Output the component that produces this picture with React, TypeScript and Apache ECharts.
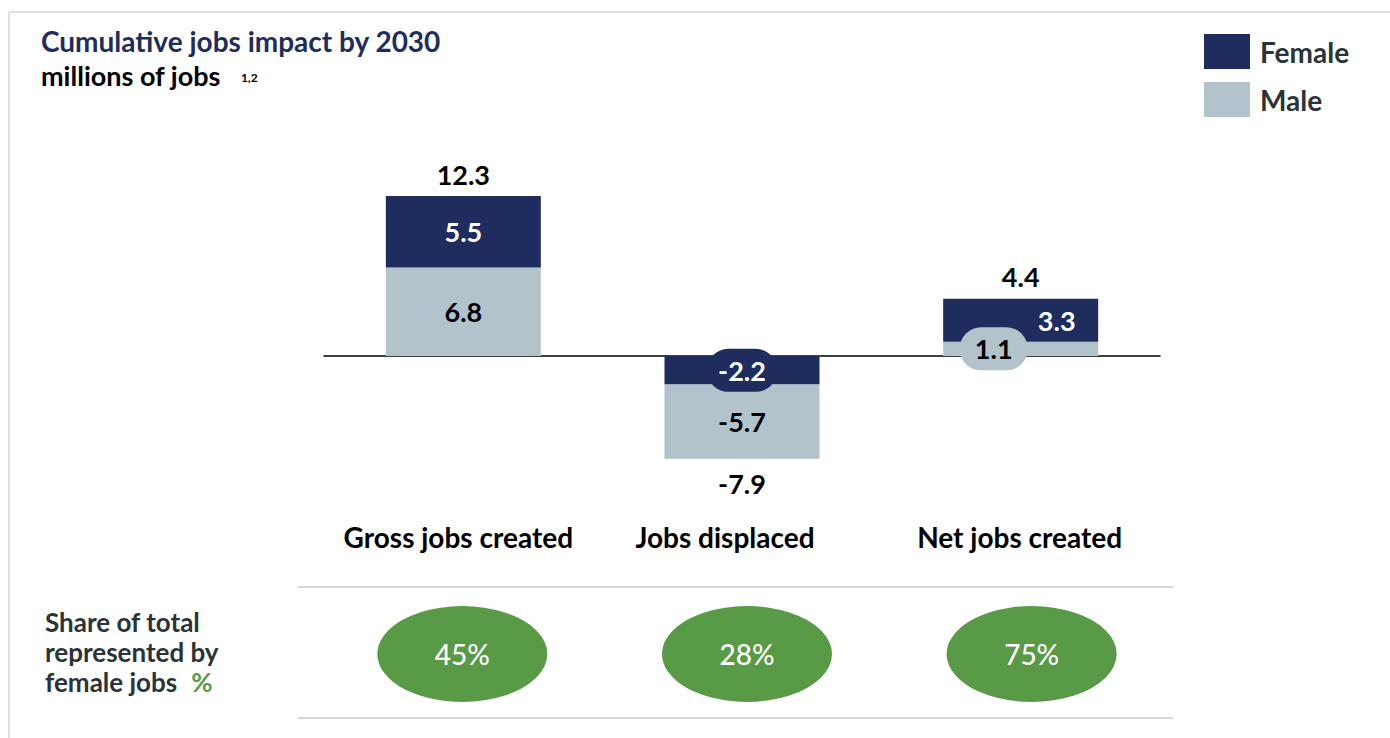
import React, { useEffect, useRef } from "react";
import * as echarts from "echarts";

const categories = ["Gross jobs created", "Jobs displaced", "Net jobs created"];
const femaleJobs = [5.5, -2.2, 3.3];
const maleJobs = [6.8, -5.7, 1.1];
const totalJobs = [12.3, -7.9, 4.4];
const femaleSharePct = [45, 28, 75];

const NAVY = "#1f2d5e";
const GREY = "#b2c3cc";
const GREEN = "#589a46";
const DARK = "#2a3338";
const FONT = "Lato, 'Noto Sans', sans-serif";

// label tweaks for crowded segments (keyed by category index)
const femaleLabelTweaks: Record<number, any> = {
  1: { backgroundColor: NAVY, borderRadius: 21, padding: [8, 11, 8, 11] },
  2: { offset: [36, 0] },
};
const maleLabelTweaks: Record<number, any> = {
  2: { backgroundColor: GREY, borderRadius: 21, padding: [8, 15, 8, 15], offset: [-27, 0] },
};
// right padding of category labels (shifts the label a little to the left)
const categoryLabelShift = [10, 34, 2];

const fmt = (v: number) => v.toFixed(1);

export default function App() {
  const ref = useRef<HTMLDivElement>(null);

  useEffect(() => {
    if (!ref.current) return;
    const chart = echarts.init(ref.current, undefined, { renderer: "svg" });

    const segLabel = (color: string) => ({
      show: true,
      position: "inside",
      fontFamily: FONT,
      fontSize: 27,
      fontWeight: "bold",
      color,
      formatter: (p: any) => fmt(p.value),
    });

    const femaleNeg = femaleJobs.map((v, i) =>
      v < 0 ? { value: v, label: femaleLabelTweaks[i] || {} } : "-"
    );
    const femalePos = femaleJobs.map((v, i) =>
      v >= 0 ? { value: v, label: femaleLabelTweaks[i] || {} } : "-"
    );
    const maleData = maleJobs.map((v, i) => ({ value: v, label: maleLabelTweaks[i] || {} }));

    const catRich: Record<string, any> = {};
    categoryLabelShift.forEach((s, i) => {
      catRich["c" + i] = {
        fontFamily: FONT,
        fontSize: 28,
        fontWeight: "bold",
        color: "#000000",
        padding: [0, s, 0, 0],
      };
    });

    const option: any = {
      animation: false,
      backgroundColor: "#ffffff",
      textStyle: { fontFamily: FONT },
      title: [
        {
          text: "Cumulative jobs impact by 2030",
          left: 41,
          top: 27,
          padding: 0,
          textStyle: { fontFamily: FONT, fontSize: 28, fontWeight: "bold", color: "#1f2d5c" },
        },
        {
          text: "{m|millions of jobs}{s|1,2}",
          left: 41,
          top: 62,
          padding: 0,
          textStyle: {
            rich: {
              m: { fontFamily: FONT, fontSize: 27, fontWeight: "bold", color: "#000000" },
              s: { fontFamily: FONT, fontSize: 12, fontWeight: "bold", color: "#000000", padding: [4, 0, 0, 20] },
            },
          },
        },
      ],
      legend: {
        data: ["Female", "Male"],
        orient: "vertical",
        left: 1204,
        top: 34,
        padding: 0,
        itemWidth: 46,
        itemHeight: 35,
        itemGap: 13,
        icon: "rect",
        selectedMode: false,
        textStyle: { fontFamily: FONT, fontSize: 28, fontWeight: "bold", color: DARK, padding: [0, 0, 0, 5] },
      },
      grid: [
        { left: 324, right: 230, top: 174, height: 312 },
        { left: 320, right: 216, top: 589, height: 130 },
      ],
      xAxis: [
        {
          type: "category",
          gridIndex: 0,
          data: categories,
          axisLine: { show: true, onZero: true, lineStyle: { color: "#000000", width: 1.5 } },
          axisTick: { show: false },
          axisLabel: { show: false },
        },
        {
          type: "category",
          gridIndex: 0,
          position: "bottom",
          data: categories,
          axisLine: { show: false, onZero: false },
          axisTick: { show: false },
          axisLabel: {
            show: true,
            interval: 0,
            margin: 37,
            fontFamily: FONT,
            fontSize: 28,
            fontWeight: "bold",
            color: "#000000",
            formatter: (v: string, i: number) => `{c${i}|${v}}`,
            rich: catRich,
          },
        },
        {
          type: "category",
          gridIndex: 1,
          data: categories,
          axisLine: { show: false },
          axisTick: { show: false },
          axisLabel: { show: false },
        },
      ],
      yAxis: [
        { type: "value", gridIndex: 0, min: -10, max: 14, show: false },
        { type: "value", gridIndex: 1, min: -1, max: 1, show: false },
      ],
      series: [
        {
          name: "Female",
          type: "bar",
          stack: "jobs",
          barWidth: 155,
          itemStyle: { color: NAVY },
          label: segLabel("#ffffff"),
          data: femaleNeg,
        },
        {
          name: "Male",
          type: "bar",
          stack: "jobs",
          barWidth: 155,
          itemStyle: { color: GREY },
          label: segLabel("#000000"),
          data: maleData,
        },
        {
          name: "Female",
          type: "bar",
          stack: "jobs",
          barWidth: 155,
          itemStyle: { color: NAVY },
          label: segLabel("#ffffff"),
          data: femalePos,
        },
        {
          name: "Total",
          type: "scatter",
          symbol: "rect",
          symbolSize: 1,
          itemStyle: { color: "rgba(0,0,0,0)", opacity: 1 },
          silent: true,
          z: 5,
          label: {
            show: true,
            fontFamily: FONT,
            fontSize: 27,
            fontWeight: "bold",
            color: "#000000",
            opacity: 1,
            formatter: (p: any) => fmt(p.value[1]),
          },
          data: totalJobs.map((v, i) => ({
            value: [i, v],
            label: { position: v >= 0 ? "top" : "bottom", distance: v >= 0 ? 8 : 11 },
          })),
        },
        {
          name: "Share",
          type: "scatter",
          xAxisIndex: 2,
          yAxisIndex: 1,
          symbol: "circle",
          symbolSize: [170, 96],
          itemStyle: { color: GREEN, opacity: 1 },
          silent: true,
          label: {
            show: true,
            position: "inside",
            fontFamily: FONT,
            fontSize: 28,
            fontWeight: 500,
            color: "#ffffff",
            formatter: (p: any) => `${femaleSharePct[p.dataIndex]}%`,
          },
          data: femaleSharePct.map((_, i) => [i, 0]),
        },
      ],
      graphic: [
        { type: "line", shape: { x1: 9, y1: 12, x2: 1390, y2: 12 }, style: { stroke: "#e0e0e0", lineWidth: 2 }, silent: true },
        { type: "line", shape: { x1: 9, y1: 12, x2: 9, y2: 738 }, style: { stroke: "#e0e0e0", lineWidth: 2 }, silent: true },
        { type: "line", shape: { x1: 298, y1: 587, x2: 1173, y2: 587 }, style: { stroke: "#d6d6d6", lineWidth: 2 }, silent: true },
        { type: "line", shape: { x1: 298, y1: 718, x2: 1173, y2: 718 }, style: { stroke: "#d6d6d6", lineWidth: 2 }, silent: true },
        {
          type: "text",
          left: 45,
          top: 609,
          silent: true,
          style: {
            text: "{a|Share of total}\n{a|represented by}\n{a|female jobs}{g|%}",
            rich: {
              a: { fontFamily: FONT, fontSize: 26, fontWeight: "bold", fill: DARK, lineHeight: 30 },
              g: { fontFamily: FONT, fontSize: 26, fontWeight: "bold", fill: GREEN, lineHeight: 30, padding: [0, 0, 0, 14] },
            },
          },
        },
      ],
    };

    chart.setOption(option);
    return () => chart.dispose();
  }, []);

  return (
    <div
      ref={ref}
      style={{ position: "fixed", left: 0, top: 0, width: 1390, height: 738, background: "#fff" }}
    />
  );
}
